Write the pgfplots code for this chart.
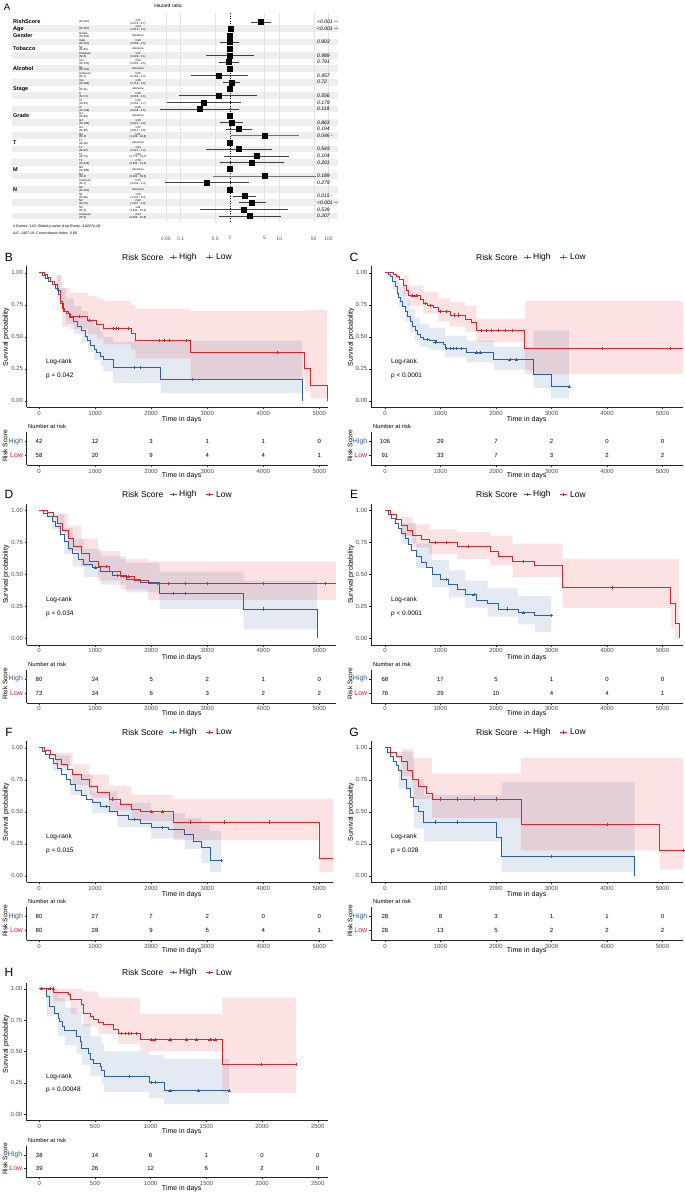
\documentclass[border=0pt]{standalone}
\usepackage{pgfplots}
\pgfplotsset{compat=1.18}
\usepackage{fontspec}
\setmainfont{Liberation Sans}
\definecolor{kmblue}{HTML}{2E5EA8}
\definecolor{kmred}{HTML}{E8202A}
\newcommand{\fs}[1]{\fontsize{#1}{#1}\selectfont}

\pgfplotsset{
  kmcommon/.style={
    anchor=south west, scale only axis,
    axis x line=bottom, axis y line=left,
    axis line style={-, line width=0.5pt, black!85},
    tick align=outside, major tick length=2pt,
    major tick style={line width=0.4pt, black!85},
    ticklabel style={font=\fs{6}, text=black!70},
    xticklabel style={inner sep=1.5pt},
    yticklabel style={inner sep=1.5pt},
  },
  kmL/.style={xmin=-220},
  kmR/.style={xmin=-252, xmax=5370, width=312pt},
  kmT/.style={xtick={0,1000,2000,3000,4000,5000}, xticklabels={0,1000,2000,3000,4000,5000}},
  kmmain/.style={kmcommon, height=141pt, ymin=-0.05, ymax=1.05,
    ytick={0,0.25,0.5,0.75,1}, yticklabels={0.00,0.25,0.50,0.75,1.00}},
  kmrisk/.style={kmcommon, height=32.9pt, ymin=0.3, ymax=2.65, ytick={1,2},
    yticklabels={\textcolor{kmred}{Low},\textcolor{kmblue}{High}},
    yticklabel style={font=\fs{7}}},
  bband/.style={const plot, fill=kmblue, fill opacity=0.13, draw=none},
  rband/.style={const plot, fill=kmred, fill opacity=0.13, draw=none},
  bl/.style={const plot, kmblue, line width=0.8pt},
  rl/.style={const plot, kmred, line width=0.8pt},
  bc/.style={only marks, mark=+, mark size=1.6pt, kmblue, mark options={line width=0.5pt}},
  rc/.style={only marks, mark=+, mark size=1.6pt, kmred, mark options={line width=0.5pt}},
  rnum/.style={draw=none, nodes near coords, point meta=explicit symbolic,
    nodes near coords align={center},
    every node near coord/.append style={font=\fs{6}, text=black, inner sep=0pt}},
}

\newcommand{\frow}[5]{%
  \node[anchor=west, font=\fs{5.5}\bfseries, inner sep=0pt] at (13pt,{-(22+6.69*#1)*1pt}) {#2};
  \node[anchor=west, font=\fs{2.8}, align=left, inner sep=0pt] at (79pt,{-(22+6.69*#1)*1pt}) {#3};
  \node[font=\fs{2.8}, align=center, inner sep=0pt] at (138pt,{-(22+6.69*#1)*1pt}) {#4};
  \node[anchor=west, font=\fs{5}\itshape, inner sep=0pt] at (317pt,{-(22+6.69*#1)*1pt}) {#5};
}

\newcommand{\kmlegend}[2]{%
  \node[anchor=west, font=\fs{8.5}, inner sep=0pt] at (#1pt,#2pt) {Risk Score};
  \draw[kmblue, line width=0.8pt] ({(#1+48)*1pt},#2pt) -- ++(7pt,0pt);
  \draw[kmblue, line width=0.6pt] ({(#1+51.5)*1pt},{(#2+1.7)*1pt}) -- ++(0pt,-3.4pt);
  \node[anchor=west, font=\fs{8.5}, inner sep=0pt] at ({(#1+57)*1pt},#2pt) {High};
  \draw[kmred, line width=0.8pt] ({(#1+84)*1pt},#2pt) -- ++(7pt,0pt);
  \draw[kmred, line width=0.6pt] ({(#1+87.5)*1pt},{(#2+1.7)*1pt}) -- ++(0pt,-3.4pt);
  \node[anchor=west, font=\fs{8.5}, inner sep=0pt] at ({(#1+94)*1pt},#2pt) {Low};
}

% #1 dx, #2 dy, #3 letter, #4 p text, #5 legend start x
\newcommand{\kmdeco}[5]{%
\begin{scope}[shift={(#1pt,-#2pt)}]
  \node[font=\fs{12}] at (9pt,-257pt) {#3};
  \kmlegend{#5}{-257}
  \node[font=\fs{7}, rotate=90] at (6pt,-337pt) {Survival probability};
  \node[font=\fs{6.5}, anchor=west, inner sep=0pt] at (46pt,-362pt) {Log-rank};
  \node[font=\fs{6.5}, anchor=west, inner sep=0pt] at (46pt,-376pt) {#4};
  \node[font=\fs{7}] at (181.7pt,-420pt) {Time in days};
  \node[font=\fs{5.8}, anchor=west, inner sep=0pt] at (28pt,-426.7pt) {Number at risk};
  \node[font=\fs{6.6}, rotate=90] at (5pt,-446pt) {Risk Score};
  \node[font=\fs{7}] at (181.7pt,-476pt) {Time in days};
\end{scope}}

\begin{document}
\begin{tikzpicture}
\useasboundingbox (0,0) rectangle (685pt,-1194pt);
\fill[white] (0,0) rectangle (685pt,-1194pt);

%================ Panel A: forest plot =================
\node[font=\fs{9.5}] at (7pt,-7pt) {A};
\node[font=\fs{5}] at (168pt,-6pt) {Hazard ratio};
\foreach \r in {1,3,...,29}{
  \fill[gray!13] (12pt,{-(18.655+6.69*\r)*1pt}) rectangle (338pt,{-(25.345+6.69*\r)*1pt});
}
\begin{axis}[at={(146.2pt,-222pt)}, anchor=south west, scale only axis,
  width=197.2pt, height=209pt, xmode=log, xmin=0.02, xmax=200,
  ymin=-1.345, ymax=29.9, y dir=reverse, clip=false,
  hide y axis, axis x line*=bottom, x axis line style={draw=none},
  major tick length=0pt, minor tick length=0pt,
  xtick={0.05,0.1,0.5,1,5,10,50,100}, xticklabels={0.05,0.1,0.5,1,5,10,50,100},
  xticklabel style={font=\fs{5}, text=black!65, yshift=-11pt},
  xmajorgrids, grid style={gray!22, line width=0.4pt}]
\addplot[black, dotted, line width=0.5pt] coordinates {(1,-1.345) (1,29.9)};
\addplot[black!75, line width=0.45pt] coordinates {(2.679,0) (6.7,0)};
\addplot[black!75, line width=0.45pt] coordinates {(1.013,1) (1.05,1)};
\addplot[black!75, line width=0.45pt] coordinates {(0.639,3) (1.5,3)};
\addplot[black!75, line width=0.45pt] coordinates {(0.329,5) (3.1,5)};
\addplot[black!75, line width=0.45pt] coordinates {(0.600,6) (1.5,6)};
\addplot[black!75, line width=0.45pt] coordinates {(0.160,8) (2.3,8)};
\addplot[black!75, line width=0.45pt] coordinates {(0.719,9) (1.6,9)};
\addplot[black!75, line width=0.45pt] coordinates {(0.093,11) (3.6,11)};
\addplot[black!75, line width=0.45pt] coordinates {(0.052,12) (1.7,12)};
\addplot[black!75, line width=0.45pt] coordinates {(0.038,13) (1.5,13)};
\addplot[black!75, line width=0.45pt] coordinates {(0.620,15) (1.8,15)};
\addplot[black!75, line width=0.45pt] coordinates {(0.813,16) (2.8,16)};
\addplot[black!55, line width=0.45pt] coordinates {(1.029,17) (24.8,17)};
\addplot[black!75, line width=0.45pt] coordinates {(0.327,19) (7.2,19)};
\addplot[black!75, line width=0.45pt] coordinates {(0.772,20) (15.7,20)};
\addplot[black!75, line width=0.45pt] coordinates {(0.635,21) (12.3,21)};
\addplot[black!55, line width=0.45pt] coordinates {(0.451,23) (56.3,23)};
\addplot[black!75, line width=0.45pt] coordinates {(0.048,24) (2.4,24)};
\addplot[black!75, line width=0.45pt] coordinates {(1.144,26) (3.4,26)};
\addplot[black!75, line width=0.45pt] coordinates {(1.507,27) (5.3,27)};
\addplot[black!75, line width=0.45pt] coordinates {(0.243,28) (15.0,28)};
\addplot[black!75, line width=0.45pt] coordinates {(0.609,29) (10.6,29)};
\addplot[only marks, mark=square*, mark size=2.5pt, black] coordinates {
 (4.25,0) (1.03,1) (1,2) (0.98,3) (1,4) (1.01,5) (0.94,6) (1,7) (0.60,8) (1.08,9)
 (1,10) (0.58,11) (0.30,12) (0.24,13) (1,14) (1.06,15) (1.50,16) (5.05,17)
 (1,18) (1.53,19) (3.46,20) (2.79,21) (1,22) (5.04,23) (0.33,24)
 (1,25) (1.96,26) (2.82,27) (1.91,28) (2.54,29)};
\end{axis}
\frow{0}{RishScore}{(N=297)}{4.25\\(2.679 - 6.7)}{<0.001 {\fs{3.5}***}}
\frow{1}{Age}{(N=297)}{1.03\\(1.013 - 1.0)}{<0.001 {\fs{3.5}***}}
\frow{2}{Gender}{female\\(N=100)}{reference}{}
\frow{3}{}{male\\(N=197)}{0.98\\(0.639 - 1.5)}{0.903}
\frow{4}{Tobacco}{No\\(N=81)}{reference}{}
\frow{5}{}{Unknown\\(N=6)}{1.01\\(0.329 - 3.1)}{0.989}
\frow{6}{}{Yes\\(N=210)}{0.94\\(0.600 - 1.5)}{0.791}
\frow{7}{Alcohol}{No\\(N=102)}{reference}{}
\frow{8}{}{Unknown\\(N=7)}{0.60\\(0.160 - 2.3)}{0.457}
\frow{9}{}{Yes\\(N=188)}{1.08\\(0.719 - 1.6)}{0.72}
\frow{10}{Stage}{I\\(N=11)}{reference}{}
\frow{11}{}{II\\(N=74)}{0.58\\(0.093 - 3.6)}{0.556}
\frow{12}{}{III\\(N=64)}{0.30\\(0.052 - 1.7)}{0.179}
\frow{13}{}{IV\\(N=148)}{0.24\\(0.038 - 1.5)}{0.119}
\frow{14}{Grade}{G1\\(N=46)}{reference}{}
\frow{15}{}{G2\\(N=188)}{1.06\\(0.620 - 1.8)}{0.863}
\frow{16}{}{G3\\(N=60)}{1.50\\(0.813 - 2.8)}{0.194}
\frow{17}{}{G4\\(N=3)}{5.05\\(1.029 - 24.8)}{0.046 {\fs{3.5}*}}
\frow{18}{T}{T1\\(N=18)}{reference}{}
\frow{19}{}{T2\\(N=97)}{1.53\\(0.327 - 7.2)}{0.543}
\frow{20}{}{T3\\(N=73)}{3.46\\(0.772 - 15.7)}{0.104}
\frow{21}{}{T4\\(N=109)}{2.79\\(0.635 - 12.3)}{0.201}
\frow{22}{M}{M0\\(N=288)}{reference}{}
\frow{23}{}{M1\\(N=2)}{5.04\\(0.451 - 56.3)}{0.189}
\frow{24}{}{Unknown\\(N=7)}{0.33\\(0.048 - 2.4)}{0.279}
\frow{25}{N}{N0\\(N=160)}{reference}{}
\frow{26}{}{N1\\(N=58)}{1.96\\(1.144 - 3.4)}{0.015 {\fs{3.5}*}}
\frow{27}{}{N2\\(N=74)}{2.82\\(1.507 - 5.3)}{<0.001 {\fs{3.5}***}}
\frow{28}{}{N3\\(N=3)}{1.91\\(0.243 - 15.0)}{0.539}
\frow{29}{}{Unknown\\(N=2)}{2.54\\(0.609 - 10.6)}{0.207}
\node[anchor=west, font=\fs{3.6}\itshape, inner sep=0pt] at (13pt,-227pt) {\# Events: 143; Global p-value (Log-Rank): 3.8227e-08};
\node[anchor=west, font=\fs{3.6}\itshape, inner sep=0pt] at (13pt,-233pt) {AIC: 1407.19; Concordance Index: 0.69};

%================ Panel B =================
\kmdeco{0}{0}{B}{p = 0.042}{122}
\begin{axis}[kmmain, kmL, kmT, xmax=5155, width=301.3pt, at={(26.7pt,-407.3pt)}]
\addplot[bband] coordinates {(0,1) (300,0.98) (380,0.88) (480,0.80) (620,0.74) (760,0.70) (870,0.64) (980,0.58) (1100,0.54) (1150,0.50) (1320,0.46) (2170,0.47) (4690,0.47)
 (4690,0.06) (2170,0.14) (1320,0.23) (1150,0.27) (1100,0.32) (980,0.38) (870,0.45) (760,0.52) (620,0.60) (480,0.72) (380,0.88) (300,1) (0,1)};
\addplot[rband] coordinates {(0,1) (330,0.98) (410,0.88) (560,0.84) (870,0.82) (1030,0.80) (1150,0.78) (1640,0.75) (1720,0.72) (2705,0.70) (4740,0.71) (4840,0.71) (5140,0.71)
 (5140,0.02) (4840,0.08) (4740,0.17) (2705,0.33) (1720,0.40) (1640,0.44) (1150,0.49) (1030,0.52) (870,0.56) (560,0.58) (410,0.78) (330,1) (0,1)};
\addplot[bl] coordinates {(0,1) (60,0.976) (110,0.952) (170,0.93) (230,0.905) (290,0.88) (340,0.83) (380,0.76) (430,0.70) (480,0.68) (550,0.65) (620,0.62) (680,0.58) (760,0.55) (820,0.50) (870,0.47) (920,0.43) (980,0.40) (1030,0.38) (1100,0.35) (1150,0.32) (1320,0.26) (2170,0.17) (4690,0)};
\addplot[rl] coordinates {(0,1) (90,0.983) (150,0.966) (210,0.93) (270,0.91) (330,0.86) (380,0.78) (410,0.72) (450,0.70) (520,0.68) (560,0.66) (870,0.63) (1030,0.60) (1150,0.566) (1640,0.53) (1720,0.474) (2705,0.38) (4740,0.25) (4840,0.123) (5140,0)};
\addplot[bc] coordinates {(1700,0.26) (1800,0.26) (2730,0.17)};
\addplot[rc] coordinates {(720,0.66) (900,0.63) (1320,0.566) (1380,0.566) (1420,0.566) (1590,0.566) (2150,0.474) (2240,0.474) (2330,0.474) (2620,0.474) (4250,0.38)};
\end{axis}
\begin{axis}[kmrisk, kmL, kmT, xmax=5155, width=301.3pt, at={(26.7pt,-465.3pt)}]
\addplot[rnum] table[meta=n, row sep=\\] {x y n\\ 0 2 42\\ 1000 2 12\\ 2000 2 3\\ 3000 2 1\\ 4000 2 1\\ 5000 2 0\\ 0 1 58\\ 1000 1 20\\ 2000 1 9\\ 3000 1 4\\ 4000 1 4\\ 5000 1 1\\};
\end{axis}

%================ Panel C =================
\kmdeco{345}{0}{C}{p < 0.0001}{131}
\begin{axis}[kmmain, kmR, kmT, at={(371pt,-407.3pt)}]
\addplot[bband] coordinates {(0,1) (140,0.99) (250,0.89) (360,0.79) (450,0.72) (540,0.65) (630,0.60) (800,0.57) (1080,0.51) (1470,0.47) (1960,0.42) (2680,0.55) (2990,0.55) (3320,0.55)
 (3320,0.02) (2990,0.10) (2680,0.24) (1960,0.30) (1470,0.34) (1080,0.40) (800,0.42) (630,0.47) (540,0.54) (450,0.62) (360,0.73) (250,0.87) (140,1) (0,1)};
\addplot[rband] coordinates {(0,1) (330,0.98) (420,0.90) (690,0.85) (960,0.80) (1170,0.77) (1440,0.74) (1650,0.64) (2520,0.78) (5370,0.78)
 (5370,0.21) (2520,0.46) (1650,0.54) (1440,0.58) (1170,0.62) (960,0.68) (690,0.74) (420,0.82) (330,1) (0,1)};
\addplot[bl] coordinates {(0,1) (60,0.99) (100,0.97) (140,0.93) (180,0.89) (215,0.84) (250,0.81) (280,0.78) (320,0.74) (360,0.70) (400,0.66) (450,0.62) (500,0.58) (540,0.55) (590,0.52) (630,0.495) (700,0.48) (800,0.47) (930,0.46) (1060,0.44) (1080,0.41) (1470,0.375) (1960,0.32) (2680,0.205) (2990,0.11) (3320,0.11)};
\addplot[rl] coordinates {(0,1) (150,0.987) (200,0.97) (260,0.95) (330,0.90) (380,0.86) (420,0.82) (630,0.79) (690,0.76) (760,0.745) (870,0.73) (960,0.70) (1170,0.67) (1440,0.635) (1560,0.61) (1650,0.55) (2520,0.41) (5370,0.41)};
\addplot[bc] coordinates {(760,0.48) (900,0.46) (1110,0.41) (1170,0.41) (1230,0.41) (1290,0.41) (1380,0.41) (1650,0.375) (1720,0.375) (2250,0.32) (2370,0.32) (3320,0.11)};
\addplot[rc] coordinates {(500,0.82) (560,0.82) (720,0.76) (820,0.745) (1000,0.70) (1100,0.70) (1250,0.67) (1320,0.67) (1740,0.55) (1830,0.55) (1920,0.55) (2040,0.55) (2160,0.55) (2290,0.55) (3910,0.41) (5140,0.41)};
\end{axis}
\begin{axis}[kmrisk, kmR, kmT, at={(371pt,-465.3pt)}]
\addplot[rnum] table[meta=n, row sep=\\] {x y n\\ 0 2 106\\ 1000 2 29\\ 2000 2 7\\ 3000 2 2\\ 4000 2 0\\ 5000 2 0\\ 0 1 91\\ 1000 1 33\\ 2000 1 7\\ 3000 1 3\\ 4000 1 2\\ 5000 1 2\\};
\end{axis}

%================ Panel D =================
\kmdeco{0}{237.5}{D}{p = 0.034}{122}
\begin{axis}[kmmain, kmL, kmT, xmax=5300, width=309.5pt, at={(26.7pt,-644.8pt)}]
\addplot[bband] coordinates {(0,1) (230,0.97) (450,0.86) (600,0.77) (800,0.70) (1100,0.64) (1550,0.59) (2150,0.52) (3650,0.45) (4960,0.45)
 (4960,0.07) (3650,0.23) (2150,0.36) (1550,0.42) (1100,0.48) (800,0.56) (600,0.66) (450,0.85) (230,1) (0,1)};
\addplot[rband] coordinates {(0,1) (330,0.97) (520,0.88) (750,0.78) (1050,0.68) (1450,0.62) (1950,0.60) (5300,0.60)
 (5300,0.30) (1950,0.38) (1450,0.45) (1050,0.56) (750,0.68) (520,0.83) (330,1) (0,1)};
\addplot[bl] coordinates {(0,1) (80,0.975) (150,0.95) (230,0.91) (300,0.87) (380,0.81) (450,0.76) (520,0.70) (600,0.66) (700,0.62) (800,0.58) (950,0.55) (1100,0.52) (1300,0.49) (1550,0.46) (1800,0.44) (2150,0.35) (3650,0.23) (4960,0)};
\addplot[rl] coordinates {(0,1) (150,0.985) (250,0.95) (330,0.90) (420,0.84) (520,0.78) (620,0.72) (750,0.66) (900,0.60) (1050,0.56) (1250,0.52) (1450,0.48) (1700,0.45) (1950,0.43) (5300,0.43)};
\addplot[bc] coordinates {(1000,0.55) (1400,0.49) (2400,0.35) (2600,0.35) (4000,0.23)};
\addplot[rc] coordinates {(1200,0.56) (1600,0.48) (2100,0.43) (2300,0.43) (2600,0.43) (3000,0.43) (4000,0.43) (5100,0.43)};
\end{axis}
\begin{axis}[kmrisk, kmL, kmT, xmax=5300, width=309.5pt, at={(26.7pt,-702.8pt)}]
\addplot[rnum] table[meta=n, row sep=\\] {x y n\\ 0 2 80\\ 1000 2 24\\ 2000 2 5\\ 3000 2 2\\ 4000 2 1\\ 5000 2 0\\ 0 1 73\\ 1000 1 24\\ 2000 1 6\\ 3000 1 3\\ 4000 1 2\\ 5000 1 2\\};
\end{axis}

%================ Panel E =================
\kmdeco{345}{237.5}{E}{p < 0.0001}{131}
\begin{axis}[kmmain, kmR, kmT, at={(371pt,-644.8pt)}]
\addplot[bband] coordinates {(0,1) (300,0.90) (560,0.74) (850,0.61) (1150,0.53) (1450,0.45) (1850,0.39) (2400,0.33) (2700,0.33) (3000,0.33)
 (3000,0.05) (2700,0.11) (2400,0.17) (1850,0.24) (1450,0.32) (1150,0.40) (850,0.55) (560,0.74) (300,1) (0,1)};
\addplot[rband] coordinates {(0,1) (300,0.95) (500,0.89) (800,0.85) (1300,0.83) (1900,0.80) (2300,0.74) (3200,0.62) (5150,0.62) (5230,0.62) (5300,0.62)
 (5300,0) (5230,0.08) (5150,0.24) (3200,0.48) (2300,0.57) (1900,0.62) (1300,0.66) (800,0.71) (500,0.80) (300,1) (0,1)};
\addplot[bl] coordinates {(0,1) (60,0.97) (120,0.94) (180,0.90) (240,0.86) (300,0.82) (360,0.78) (420,0.73) (480,0.69) (560,0.64) (650,0.59) (750,0.55) (850,0.50) (1000,0.46) (1150,0.42) (1300,0.38) (1450,0.34) (1650,0.30) (1850,0.27) (2050,0.23) (2400,0.20) (2700,0.18) (3000,0.18)};
\addplot[rl] coordinates {(0,1) (100,0.97) (200,0.93) (300,0.88) (400,0.84) (500,0.80) (650,0.77) (800,0.75) (1300,0.72) (1900,0.68) (2050,0.64) (2300,0.60) (2700,0.57) (3200,0.40) (5150,0.27) (5230,0.12) (5300,0)};
\addplot[bc] coordinates {(1100,0.46) (1600,0.34) (2200,0.23) (2500,0.20) (3000,0.18)};
\addplot[rc] coordinates {(900,0.75) (1100,0.75) (1500,0.72) (2500,0.60) (4100,0.40)};
\end{axis}
\begin{axis}[kmrisk, kmR, kmT, at={(371pt,-702.8pt)}]
\addplot[rnum] table[meta=n, row sep=\\] {x y n\\ 0 2 68\\ 1000 2 17\\ 2000 2 5\\ 3000 2 1\\ 4000 2 0\\ 5000 2 0\\ 0 1 76\\ 1000 1 29\\ 2000 1 10\\ 3000 1 4\\ 4000 1 4\\ 5000 1 1\\};
\end{axis}

%================ Panel F =================
\kmdeco{0}{475}{F}{p = 0.015}{122}
\begin{axis}[kmmain, kmL, kmT, xmax=5250, width=306.6pt, at={(26.7pt,-882.3pt)}]
\addplot[bband] coordinates {(0,1) (250,0.94) (560,0.79) (950,0.66) (1400,0.57) (2000,0.49) (2600,0.45) (2900,0.40) (3050,0.35) (3250,0.35)
 (3250,0.03) (3050,0.10) (2900,0.21) (2600,0.29) (2000,0.38) (1400,0.49) (950,0.63) (560,0.82) (250,1) (0,1)};
\addplot[rband] coordinates {(0,1) (300,0.96) (600,0.87) (900,0.79) (1250,0.70) (1650,0.63) (2400,0.60) (5000,0.60) (5250,0.60)
 (5250,0.03) (5000,0.28) (2400,0.43) (1650,0.51) (1250,0.61) (900,0.71) (600,0.86) (300,1) (0,1)};
\addplot[bl] coordinates {(0,1) (60,0.975) (120,0.95) (180,0.92) (250,0.88) (320,0.84) (400,0.79) (480,0.75) (560,0.71) (650,0.67) (750,0.63) (850,0.60) (950,0.57) (1100,0.54) (1250,0.50) (1400,0.47) (1600,0.44) (1800,0.41) (2000,0.38) (2300,0.36) (2600,0.32) (2750,0.27) (2900,0.22) (3050,0.12) (3250,0.12)};
\addplot[rl] coordinates {(0,1) (100,0.98) (200,0.95) (300,0.91) (400,0.87) (500,0.83) (600,0.79) (750,0.75) (900,0.70) (1050,0.65) (1250,0.60) (1450,0.56) (1650,0.52) (1800,0.50) (2400,0.42) (5000,0.14) (5250,0.14)};
\addplot[bc] coordinates {(1200,0.54) (1700,0.44) (2200,0.38) (3250,0.12)};
\addplot[rc] coordinates {(1300,0.60) (2000,0.50) (2200,0.50) (2700,0.42) (3300,0.42) (4100,0.42)};
\end{axis}
\begin{axis}[kmrisk, kmL, kmT, xmax=5250, width=306.6pt, at={(26.7pt,-940.3pt)}]
\addplot[rnum] table[meta=n, row sep=\\] {x y n\\ 0 2 80\\ 1000 2 27\\ 2000 2 7\\ 3000 2 2\\ 4000 2 0\\ 5000 2 0\\ 0 1 80\\ 1000 1 28\\ 2000 1 9\\ 3000 1 5\\ 4000 1 4\\ 5000 1 1\\};
\end{axis}

%================ Panel G =================
\kmdeco{345}{475}{G}{p = 0.028}{131}
\begin{axis}[kmmain, kmR, kmT, at={(371pt,-882.3pt)}]
\addplot[bband] coordinates {(0,1) (250,0.97) (520,0.75) (700,0.63) (2100,0.73) (4500,0.73)
 (4500,0.03) (2100,0.27) (700,0.37) (520,0.68) (250,1) (0,1)};
\addplot[rband] coordinates {(0,1) (300,0.99) (500,0.92) (850,0.80) (2450,0.92) (4950,0.92) (5370,0.92)
 (5370,0.05) (4950,0.20) (2450,0.45) (850,0.60) (500,0.78) (300,1) (0,1)};
\addplot[bl] coordinates {(0,1) (50,0.96) (100,0.93) (150,0.89) (200,0.86) (250,0.82) (300,0.75) (380,0.68) (450,0.61) (520,0.54) (600,0.50) (700,0.42) (2000,0.30) (2100,0.15) (4500,0)};
\addplot[rl] coordinates {(0,1) (100,0.96) (200,0.93) (300,0.89) (400,0.82) (500,0.75) (600,0.70) (750,0.64) (850,0.60) (2450,0.40) (4950,0.20) (5370,0.20)};
\addplot[bc] coordinates {(900,0.42) (1300,0.42) (3000,0.15)};
\addplot[rc] coordinates {(1000,0.60) (1300,0.60) (1600,0.60) (2000,0.60) (4000,0.40) (5370,0.20)};
\end{axis}
\begin{axis}[kmrisk, kmR, kmT, at={(371pt,-940.3pt)}]
\addplot[rnum] table[meta=n, row sep=\\] {x y n\\ 0 2 28\\ 1000 2 8\\ 2000 2 3\\ 3000 2 1\\ 4000 2 1\\ 5000 2 0\\ 0 1 28\\ 1000 1 13\\ 2000 1 5\\ 3000 1 2\\ 4000 1 2\\ 5000 1 2\\};
\end{axis}

%================ Panel H =================
\node[font=\fs{12}] at (9pt,-972.3pt) {H};
\kmlegend{122}{-972.3}
\node[font=\fs{7}, rotate=90] at (6pt,-1044pt) {Survival probability};
\node[font=\fs{6.5}, anchor=west, inner sep=0pt] at (46pt,-1076.7pt) {Log-rank};
\node[font=\fs{6.5}, anchor=west, inner sep=0pt] at (46pt,-1090pt) {p = 0.00048};
\node[font=\fs{7}] at (181.7pt,-1131.3pt) {Time in days};
\node[font=\fs{5.8}, anchor=west, inner sep=0pt] at (28pt,-1140pt) {Number at risk};
\node[font=\fs{6.6}, rotate=90] at (5pt,-1159pt) {Risk Score};
\node[font=\fs{7}] at (181.7pt,-1188.3pt) {Time in days};
\begin{axis}[kmmain, height=137.8pt, xmin=-119, xmax=2594, width=302.2pt,
  xtick={0,500,1000,1500,2000,2500}, xticklabels={0,500,1000,1500,2000,2500}, at={(26pt,-1120.3pt)}]
\addplot[bband] coordinates {(0,1) (66,1) (170,0.93) (230,0.85) (335,0.80) (380,0.72) (460,0.62) (560,0.56) (583,0.50) (987,0.47) (1122,0.44) (1705,0.44)
 (1705,0.08) (1122,0.128) (987,0.175) (583,0.24) (560,0.30) (460,0.39) (380,0.48) (335,0.55) (230,0.62) (170,0.78) (66,1) (0,1)};
\addplot[rband] coordinates {(0,1) (130,1) (281,1) (395,0.98) (530,0.93) (709,0.93) (904,0.80) (1643,0.93) (2304,0.93)
 (2304,0.168) (1643,0.50) (904,0.56) (709,0.64) (530,0.70) (395,0.80) (281,0.90) (130,1) (0,1)};
\addplot[bl] coordinates {(0,1) (66,0.94) (90,0.86) (140,0.806) (170,0.766) (185,0.74) (210,0.70) (230,0.67) (335,0.62) (365,0.58) (380,0.527) (440,0.487) (460,0.434) (485,0.407) (545,0.38) (560,0.346) (583,0.30) (987,0.255) (1122,0.186) (1705,0.186)};
\addplot[rl] coordinates {(0,1) (130,0.973) (260,0.952) (281,0.912) (380,0.872) (395,0.806) (455,0.78) (485,0.753) (530,0.734) (575,0.713) (664,0.678) (709,0.646) (904,0.593) (1643,0.394) (2304,0.394)};
\addplot[bc] coordinates {(808,0.30) (1008,0.255) (1038,0.255) (1173,0.186) (1427,0.186) (1705,0.186)};
\addplot[rc] coordinates {(20,1) (95,1) (125,1) (739,0.646) (769,0.646) (799,0.646) (829,0.646) (874,0.646) (1008,0.593) (1038,0.593) (1173,0.593) (1323,0.593) (1412,0.593) (1532,0.593) (1577,0.593) (1996,0.394) (2304,0.394)};
\end{axis}
\begin{axis}[kmrisk, height=30.95pt, ymin=0.323, ymax=2.65, xmin=-119, xmax=2594, width=302.2pt,
  xtick={0,500,1000,1500,2000,2500}, xticklabels={0,500,1000,1500,2000,2500}, at={(26pt,-1177.3pt)}]
\addplot[rnum] table[meta=n, row sep=\\] {x y n\\ 0 2 38\\ 500 2 14\\ 1000 2 6\\ 1500 2 1\\ 2000 2 0\\ 2500 2 0\\ 0 1 39\\ 500 1 26\\ 1000 1 12\\ 1500 1 6\\ 2000 1 2\\ 2500 1 0\\};
\end{axis}
\end{tikzpicture}
\end{document}
